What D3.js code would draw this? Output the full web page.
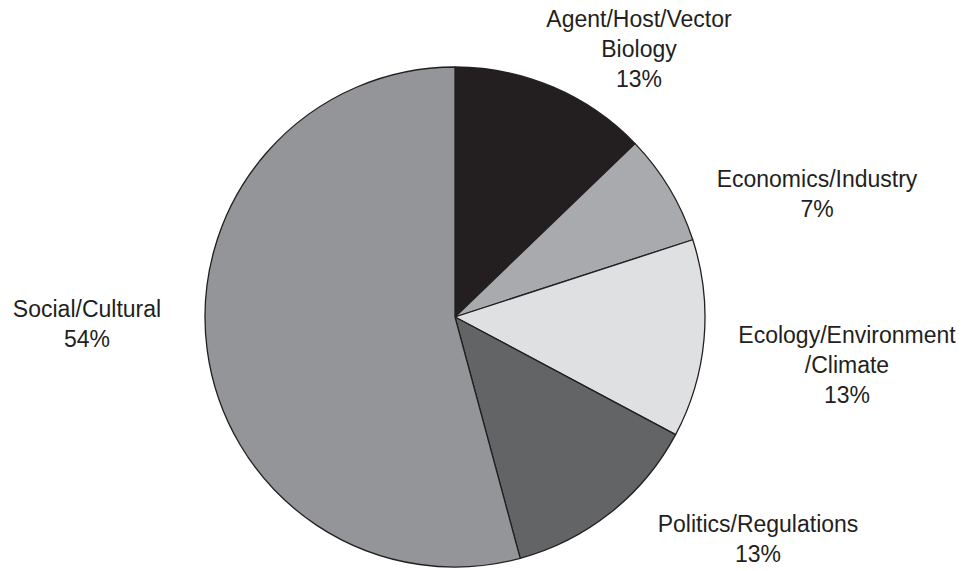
<!DOCTYPE html>
<html>
<head>
<meta charset="utf-8">
<script src="https://cdn.jsdelivr.net/npm/d3@7"></script>
<style>
	body { margin: 0; background: #fff; }
	svg { display: block; }
	text { font-family: "Liberation Sans", Arial, Helvetica, sans-serif; fill: #231f20; }
</style>
</head>
<body>
<svg id="chart" width="963" height="571"></svg>
<script>
// slices, clockwise from 12 o'clock
var categories = ["Agent/Host/Vector Biology", "Economics/Industry", "Ecology/Environment/Climate", "Politics/Regulations", "Social/Cultural"];
var values = [12.8, 7.2, 12.8, 13.0, 54.2];
var pctLabels = ["13%", "7%", "13%", "13%", "54%"];
var labelLines = [
	["Agent/Host/Vector", "Biology"],
	["Economics/Industry"],
	["Ecology/Environment", "/Climate"],
	["Politics/Regulations"],
	["Social/Cultural"]
];
var fills = ["#231f20", "#a9aaad", "#dfe0e2", "#636466", "#939598"];

// where each label block sits (center x, first baseline)
var labelAt = [[639, 27], [817, 187], [847, 343], [758, 532], [87, 317]];

var width = 963, height = 571,
	cx = 455, cy = 317, radius = 250,
	lineH = 30;

var svg = d3.select("#chart");

var pie = d3.pie().sort(null).value(function (d) { return d; });
var arc = d3.arc().innerRadius(0).outerRadius(radius);

var g = svg.append("g").attr("transform", "translate(" + cx + "," + cy + ")");

g.selectAll("path")
	.data(pie(values))
	.enter().append("path")
	.attr("d", arc)
	.attr("fill", function (d, i) { return fills[i]; })
	.attr("stroke", "#231f20")
	.attr("stroke-width", 1.3)
	.attr("stroke-linejoin", "round");

categories.forEach(function (c, i) {
	var lines = labelLines[i].concat([pctLabels[i]]);
	var t = svg.append("text")
		.attr("text-anchor", "middle")
		.attr("font-size", 23);
	lines.forEach(function (s, j) {
		t.append("tspan")
			.attr("x", labelAt[i][0])
			.attr("y", labelAt[i][1] + j * lineH)
			.text(s);
	});
});
</script>
</body>
</html>
